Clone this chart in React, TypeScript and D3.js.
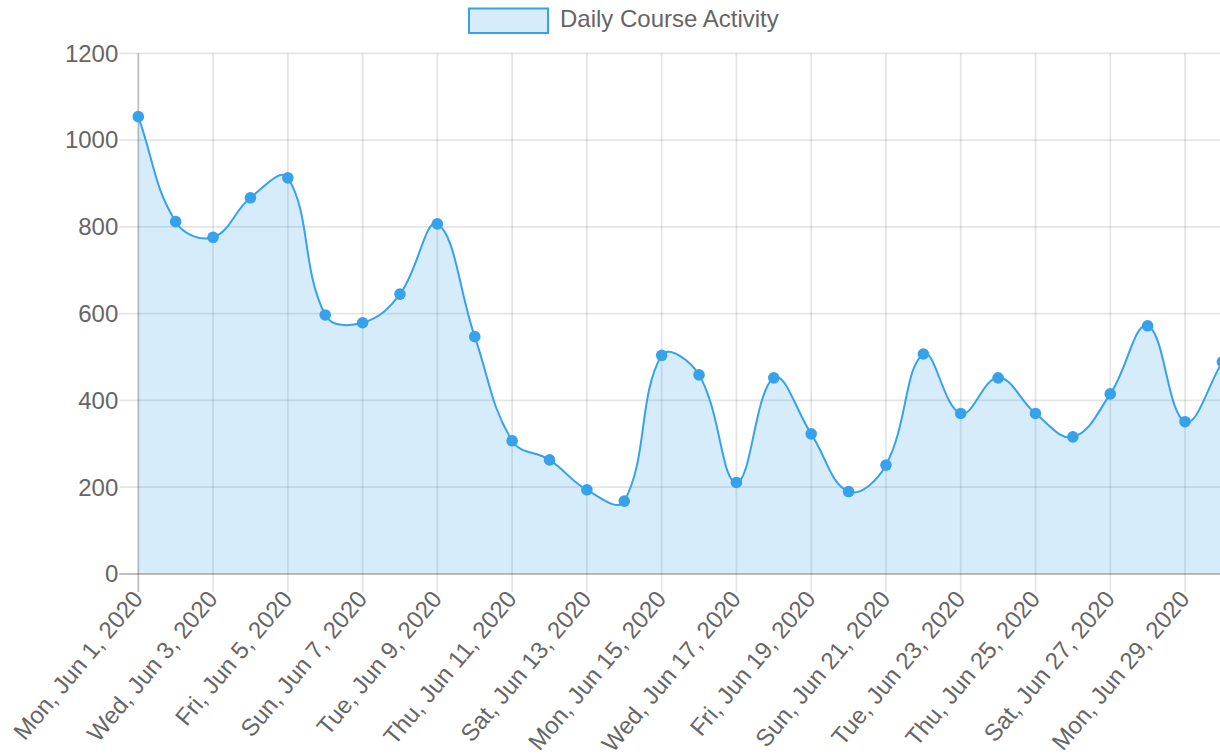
import React, { useEffect, useRef } from "react";
import * as d3 from "d3";

// daily course activity, June 2020
const days = [
  "2020-06-01", "2020-06-02", "2020-06-03", "2020-06-04", "2020-06-05",
  "2020-06-06", "2020-06-07", "2020-06-08", "2020-06-09", "2020-06-10",
  "2020-06-11", "2020-06-12", "2020-06-13", "2020-06-14", "2020-06-15",
  "2020-06-16", "2020-06-17", "2020-06-18", "2020-06-19", "2020-06-20",
  "2020-06-21", "2020-06-22", "2020-06-23", "2020-06-24", "2020-06-25",
  "2020-06-26", "2020-06-27", "2020-06-28", "2020-06-29", "2020-06-30",
];
const activity = [
  1054, 812, 776, 867, 913, 597, 579, 645, 807, 547,
  307, 263, 194, 168, 504, 459, 211, 452, 323, 190,
  251, 507, 370, 452, 370, 316, 415, 572, 351, 489,
];
const yTicks = [0, 200, 400, 600, 800, 1000, 1200];
const seriesLabel = "Daily Course Activity";

const W = 1220;
const H = 756;
const FONT = "'Liberation Sans', Arial, Helvetica, sans-serif";
const FONT_SIZE = 24;
const BLUE = "rgb(54, 162, 235)";
const BLUE_FILL = "rgba(54, 162, 235, 0.2)";

// chart.js style spline (tension 0.4), control points capped to the chart area
function splinePath(pts, top, bottom, tension = 0.4) {
  const cps = pts.map((p, i) => {
    const prev = pts[i - 1] || p;
    const next = pts[i + 1] || p;
    const d01 = Math.hypot(p[0] - prev[0], p[1] - prev[1]);
    const d12 = Math.hypot(next[0] - p[0], next[1] - p[1]);
    let s01 = d01 / (d01 + d12);
    let s12 = d12 / (d01 + d12);
    if (isNaN(s01)) s01 = 0;
    if (isNaN(s12)) s12 = 0;
    const fa = tension * s01;
    const fb = tension * s12;
    const cap = (v) => Math.max(top, Math.min(bottom, v));
    return {
      prev: [p[0] - fa * (next[0] - prev[0]), cap(p[1] - fa * (next[1] - prev[1]))],
      next: [p[0] + fb * (next[0] - prev[0]), cap(p[1] + fb * (next[1] - prev[1]))],
    };
  });
  const path = d3.path();
  path.moveTo(pts[0][0], pts[0][1]);
  for (let i = 1; i < pts.length; i++) {
    const a = cps[i - 1].next;
    const b = cps[i].prev;
    path.bezierCurveTo(a[0], a[1], b[0], b[1], pts[i][0], pts[i][1]);
  }
  return path.toString();
}

export default function App() {
  const svgRef = useRef(null);

  useEffect(() => {
    const svg = d3.select(svgRef.current);
    svg.selectAll("*").remove();

    const left = 138.3;
    const right = 1222.4;
    const top = 53.3;
    const bottom = 574;

    const x = d3.scalePoint(days, [left, right]);
    const y = d3.scaleLinear([0, 1200], [bottom, top]);
    const fmt = d3.timeFormat("%a, %b %-d, %Y");
    const parse = d3.timeParse("%Y-%m-%d");

    // every second label is shown (auto skip)
    const shown = days.filter((d, i) => i % 2 === 0);

    // horizontal grid
    svg
      .append("g")
      .selectAll("line")
      .data(yTicks)
      .join("line")
      .attr("x1", left - 19)
      .attr("x2", W + 10)
      .attr("y1", (d) => y(d))
      .attr("y2", (d) => y(d))
      .attr("stroke", (d) => (d === 0 ? "rgba(0,0,0,0.25)" : "rgba(0,0,0,0.1)"))
      .attr("stroke-width", 1.8);

    // vertical grid
    svg
      .append("g")
      .selectAll("line")
      .data(shown)
      .join("line")
      .attr("x1", (d) => x(d))
      .attr("x2", (d) => x(d))
      .attr("y1", top)
      .attr("y2", bottom + 18)
      .attr("stroke", (d, i) => (i === 0 ? "rgba(0,0,0,0.25)" : "rgba(0,0,0,0.1)"))
      .attr("stroke-width", 1.8);

    // y labels
    svg
      .append("g")
      .selectAll("text")
      .data(yTicks)
      .join("text")
      .attr("x", left - 20)
      .attr("y", (d) => y(d))
      .attr("dy", "0.35em")
      .attr("text-anchor", "end")
      .attr("font-family", FONT)
      .attr("font-size", FONT_SIZE)
      .attr("fill", "#666")
      .text((d) => d);

    // x labels, rotated
    svg
      .append("g")
      .selectAll("text")
      .data(shown)
      .join("text")
      .attr("transform", (d) => `translate(${x(d) - 0.7},${bottom + 20}) rotate(-50)`)
      .attr("dy", "0.35em")
      .attr("text-anchor", "end")
      .attr("font-family", FONT)
      .attr("font-size", FONT_SIZE)
      .attr("fill", "#666")
      .text((d) => fmt(parse(d)));

    const pts = days.map((d, i) => [x(d), y(activity[i])]);
    const linePath = splinePath(pts, top, bottom);

    // area to the zero line
    svg
      .append("path")
      .attr(
        "d",
        `${linePath}L${pts[pts.length - 1][0]},${y(0)}L${pts[0][0]},${y(0)}Z`
      )
      .attr("fill", BLUE_FILL);

    svg
      .append("path")
      .attr("d", linePath)
      .attr("fill", "none")
      .attr("stroke", BLUE)
      .attr("stroke-width", 2);

    svg
      .append("g")
      .selectAll("circle")
      .data(pts)
      .join("circle")
      .attr("cx", (d) => d[0])
      .attr("cy", (d) => d[1])
      .attr("r", 5.8)
      .attr("fill", BLUE);

    // legend
    const legend = svg.append("g");
    legend
      .append("rect")
      .attr("x", 469)
      .attr("y", 8.5)
      .attr("width", 79)
      .attr("height", 24.5)
      .attr("fill", BLUE_FILL)
      .attr("stroke", BLUE)
      .attr("stroke-width", 2);
    legend
      .append("text")
      .attr("x", 560)
      .attr("y", 26.5)
      .attr("font-family", FONT)
      .attr("font-size", FONT_SIZE)
      .attr("fill", "#666")
      .text(seriesLabel);
  }, []);

  return (
    <div
      style={{
        position: "fixed",
        left: 0,
        top: 0,
        width: W,
        height: H,
        overflow: "hidden",
        background: "#fff",
      }}
    >
      <svg ref={svgRef} width={W} height={H} style={{ display: "block" }} />
    </div>
  );
}
